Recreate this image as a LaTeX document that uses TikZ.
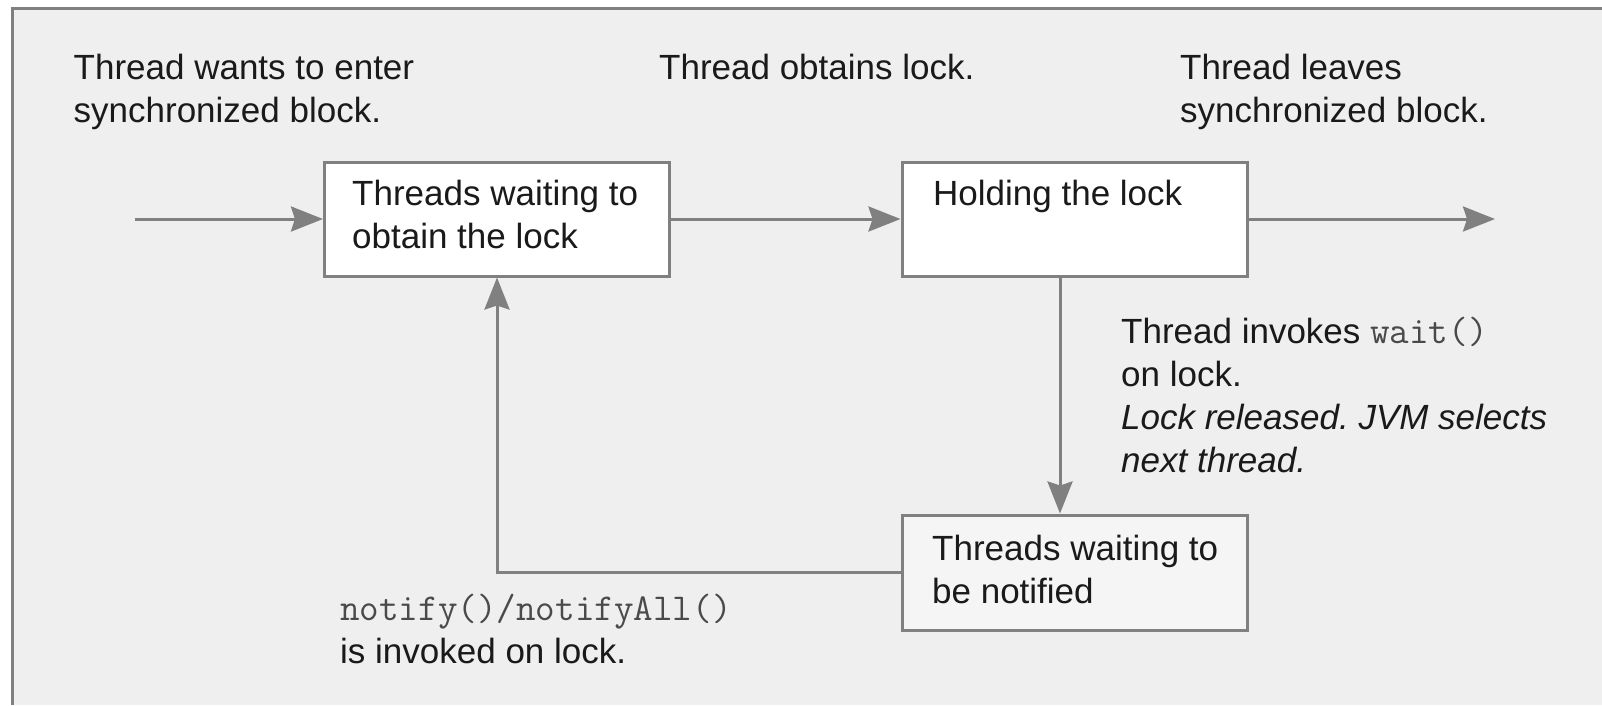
\documentclass[tikz,border=0pt]{standalone}
\usepackage{fontspec}
\setmainfont{Liberation Sans}
\frenchspacing
\usetikzlibrary{arrows.meta}
\definecolor{panel}{HTML}{EFEFEF}
\definecolor{edge}{HTML}{808080}
\definecolor{ink}{HTML}{1A1A1A}
\definecolor{codeink}{HTML}{4A4A4A}
\definecolor{paleface}{HTML}{F5F5F5}
\newcommand{\code}[1]{{\ttfamily\fontsize{38}{43}\selectfont\color{codeink}#1}}
\tikzset{
  stateblock/.style={draw=edge, line width=3pt, fill=white, inner sep=0pt,
    minimum width=345pt, minimum height=114pt},
  % multi-line captions: the base anchor sits on the last line
  caption/.style={inner sep=0pt, anchor=base west, align=left, text=ink,
    font=\fontsize{35}{43}\selectfont},
  flow/.style={draw=edge, line width=3pt,
    -{Stealth[length=32pt, width=25pt, inset=4pt, fill=edge]}}
}
\begin{document}
\begin{tikzpicture}[x=1pt, y=-1pt]
  \useasboundingbox (0,0) rectangle (1602,705);
  % panel with top and left rule
  \fill[white] (0,0) rectangle (1602,705);
  \fill[panel] (12,8) rectangle (1602,705);
  \draw[edge, line width=3pt] (12,705) -- (12,8) -- (1602,8);

  % state blocks
  \node[stateblock] (wait) at (497,219) {};
  \node[stateblock] (hold) at (1074.5,219) {};
  \node[stateblock, fill=paleface, minimum height=115pt] (notif) at (1074.5,572.5) {};

  % block texts
  \node[caption] (waittxt) at (352,248) {Threads waiting to\\obtain the lock};
  \node[caption] (holdtxt) at (933,205) {Holding the lock};
  \node[caption] (notiftxt) at (932,603) {Threads waiting to\\be notified};

  % annotations
  \node[caption] (enter) at (73.5,122) {Thread wants to enter\\synchronized block.};
  \node[caption] (obtain) at (659,79) {Thread obtains lock.};
  \node[caption] (leave) at (1180,122) {Thread leaves\\synchronized block.};
  \node[caption] (invoke) at (1121,472) {Thread invokes \code{wait()}\\on lock.\\\textit{Lock released. JVM selects}\\\textit{next thread.}};
  \node[caption] (notify) at (340,663) {\code{notify()/notifyAll()}\\is invoked on lock.};

  % connector end points
  \coordinate (src) at (135,219);
  \coordinate (dst) at (1495,219);
  \coordinate (down) at (1060,400);
  \coordinate (back) at (497,572.5);

  % connectors
  \draw[flow] (src) -- (wait.west);
  \draw[flow] (wait.east) -- (hold.west);
  \draw[flow] (hold.east) -- (dst);
  \draw[flow] (hold.south -| down) -- (notif.north -| down);
  \draw[flow] (notif.west) -| (wait.south -| back);
\end{tikzpicture}
\end{document}
